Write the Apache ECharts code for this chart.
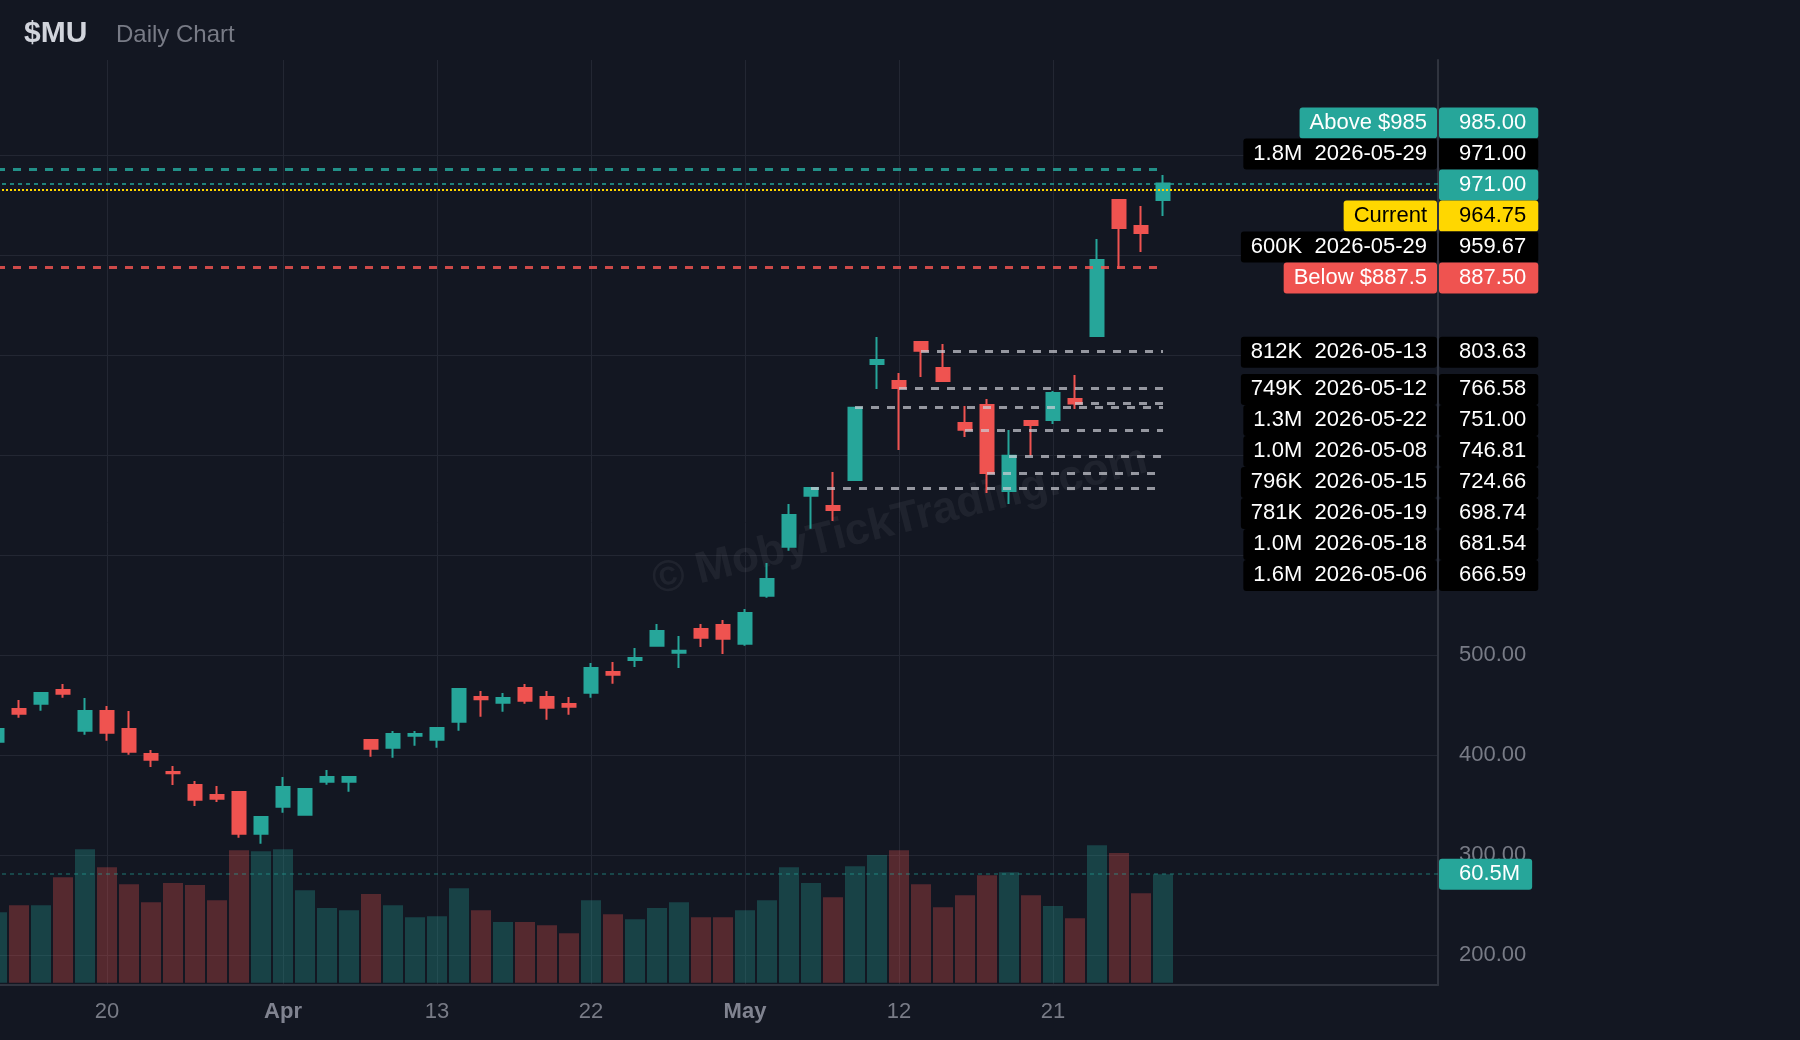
<!DOCTYPE html>
<html>
<head>
<meta charset="utf-8">
<title>$MU Daily Chart</title>
<script src="https://cdn.jsdelivr.net/npm/echarts@6/dist/echarts.min.js"></script>
<style>
html, body { margin: 0; padding: 0; background: #131722; overflow: hidden; }
/* chart starts a bit left of the page so the first candle is cut in half */
#chart { position: absolute; left: -14px; top: 0; width: 1814px; height: 1040px; }
</style>
</head>
<body>
<div id="chart"></div>
<script>
// trading days on screen (Good Friday and Memorial Day closed)
const dates = [
    '2026-03-13','2026-03-16','2026-03-17','2026-03-18','2026-03-19','2026-03-20',
    '2026-03-23','2026-03-24','2026-03-25','2026-03-26','2026-03-27',
    '2026-03-30','2026-03-31','2026-04-01','2026-04-02',
    '2026-04-06','2026-04-07','2026-04-08','2026-04-09','2026-04-10',
    '2026-04-13','2026-04-14','2026-04-15','2026-04-16','2026-04-17',
    '2026-04-20','2026-04-21','2026-04-22','2026-04-23','2026-04-24',
    '2026-04-27','2026-04-28','2026-04-29','2026-04-30','2026-05-01',
    '2026-05-04','2026-05-05','2026-05-06','2026-05-07','2026-05-08',
    '2026-05-11','2026-05-12','2026-05-13','2026-05-14','2026-05-15',
    '2026-05-18','2026-05-19','2026-05-20','2026-05-21','2026-05-22',
    '2026-05-26','2026-05-27','2026-05-28','2026-05-29'
];
const opens = [
    412.8,445.5,450.8,464.5,423.8,443.5,425.5,400.5,382.5,369.5,359.5,
    362.5,320.8,347.8,339.8,372.8,372.8,414.5,406.8,418.8,414.8,432.8,
    457.5,451.8,466.5,457.5,450.5,461.8,482.5,494.5,508.8,501.8,525.5,
    529.5,510.8,558.8,607.8,658.8,648.5,674.5,790.5,773.5,812.5,786.5,
    731.5,749.5,663.5,733.5,734.5,755.5,818.5,954.5,928.5,954.5
];
const closes = [
    425.5,440.8,461.5,460.8,443.5,421.8,402.8,394.8,381.2,354.8,355.8,
    320.8,337.5,367.5,365.5,377.5,377.5,405.8,420.5,420.5,426.5,465.5,
    455.2,456.5,453.8,446.8,447.8,486.5,479.8,496.5,523.5,503.8,516.8,
    515.8,541.5,575.5,639.5,666.59,644.5,746.81,794.5,766.58,803.63,773.5,
    724.66,681.54,698.74,729.5,761.5,751.0,894.5,926.5,921.5,971.0
];
const lows = [
    411.0,436.8,443.8,456.8,419.8,413.8,399.8,387.5,369.5,348.5,352.5,
    316.8,310.8,341.8,338.8,369.8,362.8,397.8,396.8,408.8,406.8,423.8,
    437.8,442.8,450.8,434.8,439.8,456.8,470.8,487.5,508.8,486.5,507.5,
    500.5,508.8,556.8,603.8,625.8,633.5,673.5,765.5,704.5,777.5,773.5,
    717.5,661.5,650.5,698.8,730.5,745.5,818.5,885.5,902.5,938.5
];
const highs = [
    427.0,454.5,462.5,470.5,456.5,448.5,443.5,404.5,388.5,373.5,368.5,
    362.5,337.5,377.5,366.5,384.5,378.5,415.5,423.5,423.5,426.5,465.5,
    463.5,461.5,470.5,463.5,457.5,491.5,492.5,506.5,530.5,518.5,530.5,
    534.5,545.5,591.5,650.5,667.0,682.5,747.5,817.5,781.5,813.5,810.5,
    748.5,755.5,724.5,734.5,763.5,779.5,915.5,954.5,948.5,979.5
];
// volume in millions
const volumes = [
    39.3,43.2,43.2,58.8,74.4,64.4,54.9,44.9,55.5,54.4,46.0,
    73.8,73.3,74.4,51.6,41.6,40.4,49.4,43.2,36.5,37.1,52.7,
    40.4,33.8,33.8,32.1,27.6,46.0,38.2,35.4,41.6,44.9,36.5,
    36.5,40.4,46.0,64.4,55.5,47.7,64.9,71.1,73.8,54.9,42.1,
    48.8,59.9,61.6,48.8,42.7,36.0,76.6,72.2,49.9,60.5
];

// x axis ticks
const tickDates = ['2026-03-20','2026-04-01','2026-04-13','2026-04-22','2026-05-01','2026-05-12','2026-05-21'];
const tickLabels = ['20','Apr','13','22','May','12','21'];
const monthLabels = ['Apr','May'];
const gridPrices = [200,300,400,500,600,700,800,900,1000];

// key levels
const aboveLevel = 985;
const belowLevel = 887.5;
const currentPrice = 964.75;
const lastVolume = 60.5;

// volume levels from the table
const levelPrices = [971.00,959.67,803.63,766.58,751.00,746.81,724.66,698.74,681.54,666.59];
const levelDates = ['2026-05-29','2026-05-29','2026-05-13','2026-05-12','2026-05-22','2026-05-08','2026-05-15','2026-05-19','2026-05-18','2026-05-06'];
const levelVols = ['1.8M','600K','812K','749K','1.3M','1.0M','796K','781K','1.0M','1.6M'];

const slotCount = 66;
const shiftX = 14;          // chart div sits 14px left of the page
const chartW = 1814;
const gridRight = 362;
const upColor = '#26a69a';
const downColor = '#ef5350';
const gridColor = '#232733';
const axisColor = '#30343f';
const textGrey = '#787b86';
const font = '22px "Liberation Sans", Arial, sans-serif';
const lastDate = dates[dates.length - 1];
const lastClose = closes[closes.length - 1];

let myChart = echarts.init(document.getElementById('chart'));

let candleData = dates.map((d, i) => [opens[i], closes[i], lows[i], highs[i]]);
let volData = volumes.map((v, i) => ({
    value: v,
    itemStyle: {color: closes[i] >= opens[i] ? 'rgba(38,166,154,0.3)' : 'rgba(239,83,80,0.3)'}
}));

let levelLines = [];
levelPrices.forEach((p, i) => {
    if (levelDates[i] === lastDate) return;
    levelLines.push([
        {coord: [levelDates[i], p], lineStyle: {color: 'rgba(205,207,214,0.7)', width: 3, type: [8, 8]}},
        {coord: [lastDate, p]}
    ]);
});

let option = {
    backgroundColor: '#131722',
    animation: false,
    grid: {left: 0, right: gridRight, top: 60, bottom: 55},
    xAxis: {
        type: 'category',
        data: dates,
        max: slotCount - 1,
        boundaryGap: true,
        axisLine: {onZero: false, lineStyle: {color: axisColor, width: 2}},
        axisTick: {show: false},
        splitLine: {show: false},
        axisLabel: {
            interval: (i, v) => tickDates.includes(v),
            formatter: v => {
                let k = tickDates.indexOf(v);
                if (k < 0) return '';
                let t = tickLabels[k];
                return monthLabels.includes(t) ? '{b|' + t + '}' : t;
            },
            color: textGrey,
            fontSize: 22,
            fontFamily: 'Liberation Sans',
            margin: 16,
            rich: {b: {fontWeight: 'bold', fontSize: 22, color: '#808390', fontFamily: 'Liberation Sans'}}
        }
    },
    yAxis: [
        {
            type: 'value',
            position: 'right',
            min: 169.5,
            max: 1094.5,
            splitNumber: 9,
            minInterval: 100,
            maxInterval: 100,
            axisLine: {show: true, lineStyle: {color: axisColor, width: 2}},
            axisTick: {show: false},
            splitLine: {show: false},
            axisLabel: {
                color: textGrey,
                fontSize: 22,
                fontFamily: 'Liberation Sans',
                margin: 21,
                formatter: v => (v >= 200 && v <= 500 && v % 100 === 0) ? v.toFixed(2) : ''
            }
        },
        {
            type: 'value',
            show: false,
            min: -1.2,
            max: 513.6
        }
    ],
    series: [
        {
            // horizontal grid
            type: 'custom',
            silent: true,
            z: 0,
            xAxisIndex: 0,
            yAxisIndex: 0,
            data: gridPrices.map(p => [0, p]),
            renderItem: (params, api) => {
                let cs = params.coordSys;
                let y = Math.round(api.coord([0, api.value(1)])[1]) + 0.5;
                return {type: 'line', shape: {x1: cs.x, y1: y, x2: cs.x + cs.width, y2: y},
                    style: {stroke: gridColor, lineWidth: 1}};
            }
        },
        {
            // vertical grid
            type: 'custom',
            silent: true,
            z: 0,
            xAxisIndex: 0,
            yAxisIndex: 0,
            data: tickDates.map(d => [d, 500]),
            renderItem: (params, api) => {
                let cs = params.coordSys;
                let x = Math.round(api.coord([api.value(0), 500])[0]) + 0.5;
                return {type: 'line', shape: {x1: x, y1: cs.y, x2: x, y2: cs.y + cs.height},
                    style: {stroke: gridColor, lineWidth: 1}};
            }
        },
        {
            name: 'Volume',
            type: 'bar',
            xAxisIndex: 0,
            yAxisIndex: 1,
            barWidth: 20,
            z: 2,
            data: volData,
            markLine: {
                silent: true,
                symbol: ['none', 'none'],
                label: {show: false},
                data: [{yAxis: lastVolume, lineStyle: {color: 'rgba(38,166,154,0.45)', width: 1.5, type: [4, 4]}}]
            }
        },
        {
            name: '$MU',
            type: 'candlestick',
            xAxisIndex: 0,
            yAxisIndex: 0,
            barWidth: 14,
            z: 3,
            data: candleData,
            itemStyle: {
                color: upColor,
                color0: downColor,
                borderColor: upColor,
                borderColor0: downColor,
                borderWidth: 2
            },
            markLine: {
                silent: true,
                symbol: ['none', 'none'],
                label: {show: false},
                data: [
                    [{coord: [dates[0], aboveLevel], lineStyle: {color: 'rgba(38,166,154,0.85)', width: 3, type: [8, 8]}},
                     {coord: [lastDate, aboveLevel]}],
                    [{coord: [dates[0], belowLevel], lineStyle: {color: 'rgba(239,83,80,0.85)', width: 3, type: [8, 8]}},
                     {coord: [lastDate, belowLevel]}],
                    {yAxis: lastClose, lineStyle: {color: upColor, width: 1.5, type: [4, 4]}},
                    {yAxis: currentPrice, lineStyle: {color: '#ffd700', width: 2, type: [2, 2]}}
                ].concat(levelLines)
            }
        }
    ]
};

myChart.setOption(option);

// right side price labels
let ctx = document.createElement('canvas').getContext('2d');
ctx.font = font;
function textW(s) { return ctx.measureText(s).width; }

let labels = [
    {price: aboveLevel, left: 'Above $' + aboveLevel, bg: upColor, fg: '#ffffff'},
    {price: belowLevel, left: 'Below $' + belowLevel, bg: downColor, fg: '#ffffff'},
    {price: currentPrice, left: 'Current', bg: '#ffd700', fg: '#000000'}
];
levelPrices.forEach((p, i) => {
    labels.push({price: p, left: levelVols[i] + '  ' + levelDates[i], bg: '#000000', fg: '#ffffff'});
});
labels.push({price: lastClose, left: null, bg: upColor, fg: '#ffffff', anchor: true});
labels.sort((a, b) => b.price - a.price);

// keep the last price tag on its price, push the others away from it
const rowH = 31;
let ys = labels.map(l => myChart.convertToPixel({yAxisIndex: 0}, l.price) + 1.5);
let ai = labels.findIndex(l => l.anchor);
for (let i = ai - 1; i >= 0; i--) ys[i] = Math.min(ys[i], ys[i + 1] - rowH);
for (let i = ai + 1; i < labels.length; i++) ys[i] = Math.max(ys[i], ys[i - 1] + rowH);

const axisX = chartW - gridRight;
let els = [];

function addTag(y, leftText, valueText, bg, fg) {
    let vw = textW(valueText) + 32;
    els.push({type: 'rect', z: 100, shape: {x: axisX + 1, y: y - rowH / 2, width: vw, height: rowH, r: 3}, style: {fill: bg}});
    els.push({type: 'text', z: 101, x: axisX + 21, y: y,
        style: {text: valueText, font: font, fill: fg, align: 'left', verticalAlign: 'middle', textAlign: 'left', textVerticalAlign: 'middle'}});
    if (leftText) {
        let lw = textW(leftText) + 20;
        els.push({type: 'rect', z: 100, shape: {x: axisX - 1 - lw, y: y - rowH / 2, width: lw, height: rowH, r: 3}, style: {fill: bg}});
        els.push({type: 'text', z: 101, x: axisX - 11, y: y,
            style: {text: leftText, font: font, fill: fg, align: 'right', verticalAlign: 'middle', textAlign: 'right', textVerticalAlign: 'middle'}});
    }
}

labels.forEach((l, i) => addTag(ys[i], l.left, l.price.toFixed(2), l.bg, l.fg));

// volume tag
let vy = myChart.convertToPixel({yAxisIndex: 1}, lastVolume);
addTag(vy, null, lastVolume + 'M', upColor, '#ffffff');

// title
els.push({type: 'text', z: 101, x: 24 + shiftX, y: 34,
    style: {text: '$MU', font: 'bold 30px "Liberation Sans", Arial, sans-serif', fill: '#d1d4dc', align: 'left', verticalAlign: 'middle', textAlign: 'left', textVerticalAlign: 'middle'}});
els.push({type: 'text', z: 101, x: 116 + shiftX, y: 35.5,
    style: {text: 'Daily Chart', font: '24px "Liberation Sans", Arial, sans-serif', fill: textGrey, align: 'left', verticalAlign: 'middle', textAlign: 'left', textVerticalAlign: 'middle'}});

// watermark
els.push({type: 'text', z: 1, x: 900 + shiftX, y: 521, rotation: 14 * Math.PI / 180,
    style: {text: '© MobyTickTrading.com', font: 'bold 44px "Liberation Sans", Arial, sans-serif', fill: 'rgba(255,255,255,0.055)', align: 'center', verticalAlign: 'middle', textAlign: 'center', textVerticalAlign: 'middle'}});

myChart.setOption({graphic: {elements: els}});
</script>
</body>
</html>
